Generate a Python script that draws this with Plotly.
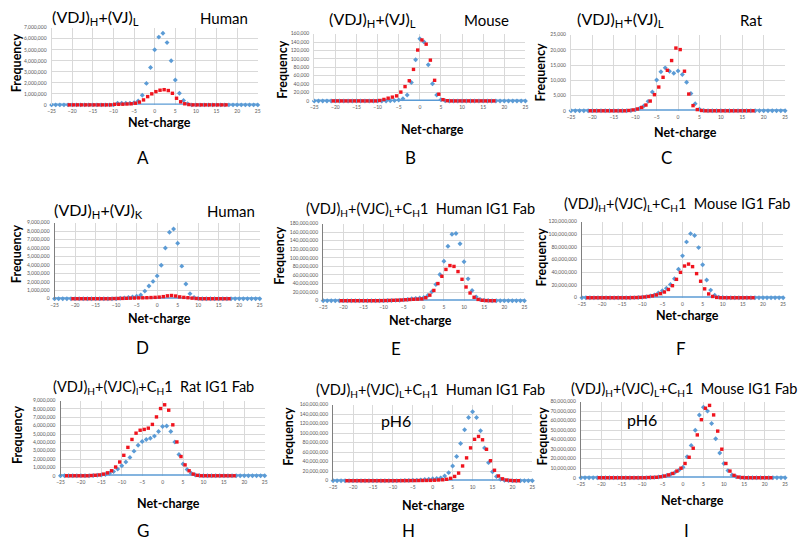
import plotly.graph_objects as go

W, H = 800, 549
X_MIN, X_MAX = -25, 25
BLUE = "#5B9BD5"
RED = "#F0141E"
FONT = "Lato"

# ---------------- data ----------------
# Panel A  (VDJ)H+(VJ)L Human, millions
A_BLUE_START = -9
A_BLUE = [0.15, 0.15, 0.15, 0.15, 0.2, 0.35, 0.87, 1.95, 3.4, 5.0, 6.15, 6.5, 5.65, 4.0, 2.25, 1.05, 0.4, 0.1]
A_RED_RANGE = (-20.7, 17.3)
A_RED_START = -9.7
A_RED = [0.05, 0.05, 0.06, 0.08, 0.1, 0.15, 0.25, 0.45, 0.75, 1.0, 1.2, 1.33, 1.38, 1.3, 1.05, 0.6, 0.28, 0.1, 0.03]

# Panel B  (VDJ)H+(VJ)L Mouse, thousands
B_BLUE_START = -7
B_BLUE = [0.3, 0.7, 2, 5, 14, 44, 98, 148, 140, 86, 41, 14, 3, 0.5]
B_RED_RANGE = (-20.5, 17.5)
B_RED_START = -9.5
B_RED = [1, 3.5, 6.5, 9, 12, 21, 34, 48, 75, 121, 145, 135, 97, 49, 16, 3, 0.5]

# Panel C  (VDJ)H+(VJ)L Rat, thousands
C_BLUE_START = -11
C_BLUE = [0.1, 0.3, 0.8, 1.6, 3.1, 6.2, 10.1, 12.8, 14.1, 13.0, 12.3, 13.1, 11.9, 9.4, 5.7, 2.3, 0.5, 0.1]
C_RED_RANGE = (-20.5, 17.5)
C_RED_START = -11.5
C_RED = [0.1, 0.3, 0.6, 1.1, 1.9, 3.2, 5.3, 7.8, 11.0, 13.3, 16.5, 20.6, 20.1, 13.0, 5.5, 1.7, 0.4, 0.1]

# Panel D  (VDJ)H+(VJ)K Human, millions
D_BLUE_START = -9
D_BLUE = [0.05, 0.1, 0.15, 0.2, 0.3, 0.45, 0.9, 1.5, 2.05, 2.7, 3.95, 6.0, 7.85, 8.25, 6.55, 3.85, 1.75, 0.6, 0.15, 0.03]
D_RED_RANGE = (-20.5, 17.5)
D_RED_START = -10.5
D_RED = [0.02, 0.03, 0.04, 0.05, 0.07, 0.08, 0.1, 0.11, 0.12, 0.14, 0.16, 0.19, 0.25, 0.34, 0.38, 0.32, 0.22, 0.16, 0.12, 0.07, 0.03]

# Panel E  (VDJ)H+(VJC)L+CH1 Human IG1 Fab, millions
E_BLUE_START = -9
E_BLUE = [0.3, 0.5, 0.8, 1.2, 2, 3, 4.5, 5.5, 6.5, 7.5, 12, 21, 38, 61, 92, 127, 155, 157, 133, 91, 51, 24, 9, 3, 1, 0.3]
E_RED_RANGE = (-20.5, 17.5)
E_RED_START = -10.5
E_RED = [0.2, 0.4, 0.6, 0.9, 1.2, 1.6, 2.2, 2.8, 3.3, 3.6, 4.2, 7, 13, 24, 40, 57, 73, 82, 80, 68, 50, 32, 18, 8, 3, 1, 0.3]

# Panel F  (VDJ)H+(VJC)L+CH1 Mouse IG1 Fab, millions
F_BLUE_START = -12
F_BLUE = [0.2, 0.4, 0.8, 1.5, 2.8, 4.5, 7.5, 11, 15, 21, 30, 45, 66, 88, 101, 98, 79, 52, 28, 12, 4, 1, 0.3]
F_RED_RANGE = (-23.5, 17.5)
F_RED_START = -12.5
F_RED = [0.2, 0.3, 0.6, 1.2, 2, 3, 4.5, 6.5, 9, 13, 19, 29, 40, 50, 53, 49, 38, 26, 14, 6, 2, 0.5]

# Panel G  (VDJ)H+(VJC)L+CH1 Rat IG1 Fab, millions
G_BLUE_START = -17
G_BLUE = [0.03, 0.06, 0.1, 0.15, 0.3, 0.5, 0.8, 1.2, 1.65, 2.2, 2.95, 3.65, 4.1, 4.35, 4.5, 4.75, 5.3, 5.9, 5.95, 5.3, 4.05, 2.55, 1.4, 0.75, 0.3, 0.1, 0.03]
G_RED_RANGE = (-23.5, 17.5)
G_RED_START = -17.5
G_RED = [0.03, 0.06, 0.1, 0.2, 0.35, 0.6, 1.05, 1.65, 2.45, 3.4, 4.35, 5.1, 5.45, 5.55, 5.7, 6.15, 7.05, 8.05, 8.5, 7.85, 6.1, 4.05, 2.3, 1.3, 0.6, 0.2, 0.05]

# Panel H  (VDJ)H+(VJC)L+CH1 Human IG1 Fab, pH6, millions
H_BLUE_START = -8
H_BLUE = [0.2, 0.3, 0.5, 0.8, 1.2, 1.8, 2.5, 3.2, 4, 4.5, 6, 10, 17, 31, 51, 78, 107, 133, 145, 133, 105, 69, 38, 19, 9, 3, 1, 0.3]
H_RED_RANGE = (-21.5, 21.5)
H_RED_START = -8.5
H_RED = [0.1, 0.15, 0.2, 0.25, 0.3, 0.4, 0.5, 0.6, 0.7, 1, 1.5, 2, 3, 5, 9, 16, 31, 48, 69, 87, 93, 86, 66, 42, 22, 10, 4, 1.5, 0.5]

# Panel I  (VDJ)H+(VJC)L+CH1 Mouse IG1 Fab, pH6, millions
I_BLUE_START = -8
I_BLUE = [0.2, 0.4, 0.8, 1.5, 2.5, 3.8, 5.5, 8, 11, 22, 34, 50, 66, 74, 70, 57, 41, 26, 15, 7.5, 3, 1, 0.3]
I_RED_RANGE = (-20.5, 21.5)
I_RED_START = -8.5
I_RED = [0.2, 0.3, 0.5, 1, 1.8, 3, 4.5, 7, 10, 15, 21.5, 31, 45, 61, 73, 76, 66, 49, 30, 15, 7, 2.5, 0.7, 0.2]

X_TICKS = [-25, -20, -15, -10, -5, 0, 5, 10, 15, 20, 25]

PANEL_TEXT = {
    "A": ("(VDJ)<sub>H</sub>+(VJ)<sub>L</sub>", "Human"),
    "B": ("(VDJ)<sub>H</sub>+(VJ)<sub>L</sub>", "Mouse"),
    "C": ("(VDJ)<sub>H</sub>+(VJ)<sub>L</sub>", "Rat"),
    "D": ("(VDJ)<sub>H</sub>+(VJ)<sub>K</sub>", "Human"),
    "E": ("(VDJ)<sub>H</sub>+(VJC)<sub>L</sub>+C<sub>H</sub>1  Human IG1 Fab", None),
    "F": ("(VDJ)<sub>H</sub>+(VJC)<sub>L</sub>+C<sub>H</sub>1  Mouse IG1 Fab", None),
    "G": ("(VDJ)<sub>H</sub>+(VJC)<sub>l</sub>+C<sub>H</sub>1  Rat IG1 Fab", None),
    "H": ("(VDJ)<sub>H</sub>+(VJC)<sub>L</sub>+C<sub>H</sub>1  Human IG1 Fab", None),
    "I": ("(VDJ)<sub>H</sub>+(VJC)<sub>L</sub>+C<sub>H</sub>1  Mouse IG1 Fab", None),
}

DATA = {
    "A": (A_BLUE_START, A_BLUE, A_RED_RANGE, A_RED_START, A_RED, 1e6, 7e6, 1e6),
    "B": (B_BLUE_START, B_BLUE, B_RED_RANGE, B_RED_START, B_RED, 1e3, 160e3, 20e3),
    "C": (C_BLUE_START, C_BLUE, C_RED_RANGE, C_RED_START, C_RED, 1e3, 25e3, 5e3),
    "D": (D_BLUE_START, D_BLUE, D_RED_RANGE, D_RED_START, D_RED, 1e6, 9e6, 1e6),
    "E": (E_BLUE_START, E_BLUE, E_RED_RANGE, E_RED_START, E_RED, 1e6, 180e6, 20e6),
    "F": (F_BLUE_START, F_BLUE, F_RED_RANGE, F_RED_START, F_RED, 1e6, 120e6, 20e6),
    "G": (G_BLUE_START, G_BLUE, G_RED_RANGE, G_RED_START, G_RED, 1e6, 9e6, 1e6),
    "H": (H_BLUE_START, H_BLUE, H_RED_RANGE, H_RED_START, H_RED, 1e6, 160e6, 20e6),
    "I": (I_BLUE_START, I_BLUE, I_RED_RANGE, I_RED_START, I_RED, 1e6, 80e6, 10e6),
}

# ---------------- layout geometry (pixels) ----------------
BOX = {  # x0, x1, ytop, ybottom
    "A": (48, 256, 25, 103), "B": (313, 526, 31, 99), "C": (572, 788, 32, 109),
    "D": (51, 258, 222, 299), "E": (322, 525, 223, 301), "F": (583, 786, 221, 298),
    "G": (57, 263, 402, 478), "H": (332, 533, 406, 483), "I": (582, 788, 403, 480),
}
TITLE_POS = {  # main title centre, second label centre
    "A": ((92, 15), (222, 15)), "B": ((372, 17), (487, 17)), "C": ((622, 17), (754, 17)),
    "D": ((95, 210), (229, 210)), "E": ((420, 209), None), "F": ((679, 204), None),
    "G": ((151, 389), None), "H": ((430, 392), None), "I": ((686, 391), None),
}
FREQ_POS = {"A": (12, 60), "B": (281, 67), "C": (541, 70), "D": (12, 253), "E": (278, 255),
            "F": (542, 257), "G": (13, 436), "H": (287, 438), "I": (543, 438)}
NET_POS = {"A": (157, 121), "B": (432, 128), "C": (688, 131), "D": (157, 319), "E": (420, 321),
           "F": (690, 316), "G": (166, 506), "H": (433, 508), "I": (695, 503)}
LETTER_POS = {"A": (140, 156), "B": (410, 156), "C": (668, 156), "D": (140, 348), "E": (395, 349),
              "F": (683, 349), "G": (140, 533), "H": (408, 533), "I": (689, 533)}
PH6_POS = {"H": (395, 422), "I": (644, 421)}


def px(x):
    return x / W


def py(y):
    return 1 - y / H


def series(first, last, nz_start, vals, scale):
    n = int(round(last - first)) + 1
    xs = [first + i for i in range(n)]
    ys = []
    for x in xs:
        k = int(round(x - nz_start))
        ys.append(vals[k] * scale if 0 <= k < len(vals) else 0)
    return xs, ys


fig = go.Figure()
annotations = []
layout = {}

for idx, key in enumerate("ABCDEFGHI", start=1):
    bstart, bvals, rrange, rstart, rvals, scale, ymax, dtick = DATA[key]
    sx = "" if idx == 1 else str(idx)
    xa, ya = "x" + sx, "y" + sx
    bx, by = series(X_MIN, X_MAX, bstart, bvals, scale)
    rx, ry = series(rrange[0], rrange[1], rstart, rvals, scale)

    fig.add_trace(go.Scatter(x=[X_MIN, X_MAX], y=[0, 0], mode="lines",
                             line=dict(color=BLUE, width=3), xaxis=xa, yaxis=ya,
                             showlegend=False, hoverinfo="skip", cliponaxis=False))
    fig.add_trace(go.Scatter(x=bx, y=by, mode="markers",
                             marker=dict(color=BLUE, size=3.8, symbol="diamond"),
                             xaxis=xa, yaxis=ya, showlegend=False, cliponaxis=False))
    fig.add_trace(go.Scatter(x=rx, y=ry, mode="markers",
                             marker=dict(color=RED, size=3.4, symbol="square"),
                             xaxis=xa, yaxis=ya, showlegend=False, cliponaxis=False))

    x0, x1, yt, yb = BOX[key]
    dark = key in "DEFGHI"
    layout["xaxis" + sx] = dict(
        domain=[px(x0), px(x1)], anchor=ya, range=[X_MIN, X_MAX],
        tickvals=X_TICKS, showgrid=True, gridcolor="#D9D9D9", gridwidth=1,
        zeroline=False, showline=False, ticks="",
        tickfont=dict(family=FONT, size=5, color="#595959"), ticklabelstandoff=2)
    layout["yaxis" + sx] = dict(
        domain=[py(yb), py(yt)], anchor=xa, range=[0, ymax], dtick=dtick,
        tickformat=",d", showgrid=True, gridcolor="#D9D9D9", gridwidth=1,
        zeroline=False, showline=True, linecolor="#7F7F7F" if dark else "#D9D9D9",
        linewidth=1, ticks="",
        tickfont=dict(family=FONT, size=5, color="#595959"), ticklabelstandoff=3)

    t1, t2 = PANEL_TEXT[key]
    p1, p2 = TITLE_POS[key]
    tsize = 16 if t2 else 14.5
    annotations.append(dict(x=px(p1[0]), y=py(p1[1]), xref="paper", yref="paper",
                            text=t1, showarrow=False, xanchor="center", yanchor="middle",
                            font=dict(family=FONT, size=tsize, color="#000000")))
    if t2:
        annotations.append(dict(x=px(p2[0]), y=py(p2[1]), xref="paper", yref="paper",
                                text=t2, showarrow=False, xanchor="center", yanchor="middle",
                                font=dict(family=FONT, size=15, color="#000000")))
    fx, fy = FREQ_POS[key]
    annotations.append(dict(x=px(fx), y=py(fy), xref="paper", yref="paper",
                            text="<b>Frequency</b>", textangle=-90, showarrow=False,
                            xanchor="center", yanchor="middle",
                            font=dict(family=FONT, size=12.5, color="#000000")))
    nx, ny = NET_POS[key]
    annotations.append(dict(x=px(nx), y=py(ny), xref="paper", yref="paper",
                            text="<b>Net-charge</b>", showarrow=False,
                            xanchor="center", yanchor="middle",
                            font=dict(family=FONT, size=12.5, color="#000000")))
    lx, ly = LETTER_POS[key]
    annotations.append(dict(x=px(lx), y=py(ly), xref="paper", yref="paper",
                            text=key, showarrow=False, xanchor="center", yanchor="middle",
                            font=dict(family=FONT, size=17, color="#000000")))
    if key in PH6_POS:
        hx, hy = PH6_POS[key]
        annotations.append(dict(x=px(hx), y=py(hy), xref="paper", yref="paper",
                                text="pH6", showarrow=False, xanchor="center", yanchor="middle",
                                font=dict(family=FONT, size=16, color="#000000")))

fig.update_layout(**layout)
fig.update_layout(width=W, height=H, autosize=False,
                  margin=dict(l=0, r=0, t=0, b=0),
                  paper_bgcolor="white", plot_bgcolor="white",
                  annotations=annotations, showlegend=False)

fig.write_html("out.html", config={"displayModeBar": False},
               post_script="document.body.style.margin='0';")
